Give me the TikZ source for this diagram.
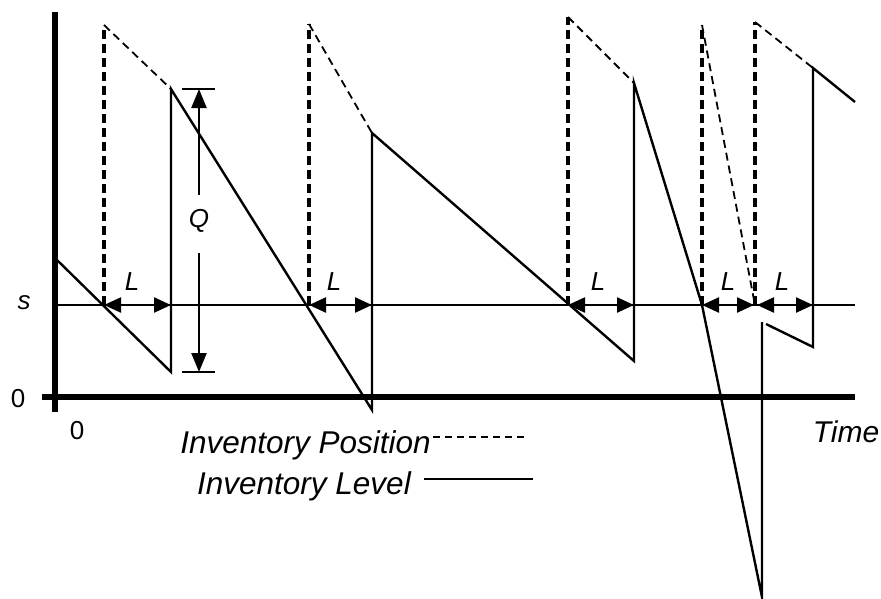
\documentclass[tikz,border=0pt]{standalone}
\usepackage{fontspec}
\setmainfont{Liberation Sans}
\usetikzlibrary{arrows.meta}
\begin{document}
\begin{tikzpicture}[x=1pt,y=-1pt,
  lvl/.style={line width=2.4pt,line join=miter},
  ipv/.style={line width=3.2pt,dash pattern=on 9pt off 5pt},
  ips/.style={line width=1.8pt,dash pattern=on 8pt off 5pt},
  axisline/.style={line width=5.5pt},
  thin/.style={line width=2.4pt},
  ltime/.style={line width=2.4pt,{Triangle[length=17pt,width=15pt]}-{Triangle[length=17pt,width=15pt]}},
  qarr/.style={line width=2.4pt,-{Triangle[length=19pt,width=15pt]}},
  lbl/.style={font=\fontsize{26}{31}\selectfont\itshape,inner sep=0pt},
  num/.style={font=\fontsize{26}{31}\selectfont,inner sep=0pt},
  big/.style={font=\fontsize{30}{36}\selectfont\itshape,inner sep=0pt},
  leg/.style={font=\fontsize{31.5}{38}\selectfont\itshape,inner sep=0pt}]
\useasboundingbox (0,0) rectangle (881,598);
% axes
\coordinate (ytop) at (55,12);
\coordinate (ybot) at (55,412);
\coordinate (xl) at (42,397);
\coordinate (xr) at (855,397);
\draw[axisline] (ytop) -- (ybot);
\draw[axisline] (xl) -- (xr);
% s line
\coordinate (sl) at (57,305);
\coordinate (sr) at (855,305);
\draw[thin] (sl) -- (sr);
% labels
\node[num] (zy) at (18,399) {0};
\node[num] (zx) at (77,431) {0};
\node[lbl] (s) at (24,303) {s};
\node[big] (time) at (846,432) {Time};
% inventory level
\coordinate (p0) at (57,260);
\coordinate (p1) at (171,372);
\coordinate (p2) at (171,89);
\coordinate (p3) at (372,410);
\coordinate (p4) at (372,133);
\coordinate (p5) at (634,361);
\coordinate (p6) at (634,83);
\coordinate (p7) at (702,305);
\coordinate (p8) at (762,597);
\coordinate (p9) at (762,322);
\coordinate (p10) at (766,324);
\coordinate (p11) at (813,347);
\coordinate (p12) at (813,68);
\coordinate (p13) at (855,102);
\draw[lvl] (p0) -- (p1) -- (p2) -- (p3) -- (p4) -- (p5) -- (p6) -- (p7) -- (p8) -- (p9);
\draw[lvl] (p10) -- (p11) -- (p12) -- (p13);
% inventory position
\coordinate (o1) at (104,305); \coordinate (t1) at (104,25);
\coordinate (o2) at (309,305); \coordinate (t2) at (309,24);
\coordinate (o3) at (568,305); \coordinate (t3) at (568,17);
\coordinate (o4) at (702,305); \coordinate (t4) at (702,25);
\coordinate (o5) at (755,305); \coordinate (t5) at (755,22);
\coordinate (e4) at (754,300);
\draw[ipv] (o1) -- (t1);
\draw[ipv] (o2) -- (t2);
\draw[ipv] (o3) -- (t3);
\draw[ipv] (o4) -- (t4);
\draw[ipv] (o5) -- (t5);
\draw[ips] (t1) -- (p2);
\draw[ips] (t2) -- (p4);
\draw[ips] (t3) -- (p6);
\draw[ips] (t4) -- (e4);
\draw[ips] (t5) -- (p12);
% lead times
\coordinate (a1) at (171,305);
\coordinate (a2) at (372,305);
\coordinate (a3) at (634,305);
\coordinate (a4) at (754,305);
\coordinate (b5) at (757,305);
\coordinate (a5) at (813,305);
\draw[ltime] (o1) -- (a1);
\draw[ltime] (o2) -- (a2);
\draw[ltime] (o3) -- (a3);
\draw[ltime] (o4) -- (a4);
\draw[ltime] (b5) -- (a5);
\node[lbl] (L1) at (132,282) {L};
\node[lbl] (L2) at (334,282) {L};
\node[lbl] (L3) at (598,282) {L};
\node[lbl] (L4) at (728,282) {L};
\node[lbl] (L5) at (782,282) {L};
% Q
\coordinate (qt1) at (182,89); \coordinate (qt2) at (215,89);
\coordinate (qb1) at (182,372); \coordinate (qb2) at (215,372);
\draw[thin] (qt1) -- (qt2);
\draw[thin] (qb1) -- (qb2);
\node[lbl] (Q) at (199,221) {Q};
\coordinate (qa) at (199,195);
\coordinate (qc) at (199,253);
\coordinate (qtop) at (199,89);
\coordinate (qbot) at (199,372);
\draw[qarr] (qa) -- (qtop);
\draw[qarr] (qc) -- (qbot);
% legend
\node[leg,anchor=base east] (ip) at (431,453) {Inventory Position};
\node[leg,anchor=base east] (il) at (411,494) {Inventory Level};
\coordinate (ld1) at (433,437); \coordinate (ld2) at (528,437);
\coordinate (ll1) at (424,479); \coordinate (ll2) at (533,479);
\draw[line width=2.4pt,dash pattern=on 7pt off 5pt] (ld1) -- (ld2);
\draw[thin] (ll1) -- (ll2);
\end{tikzpicture}
\end{document}
